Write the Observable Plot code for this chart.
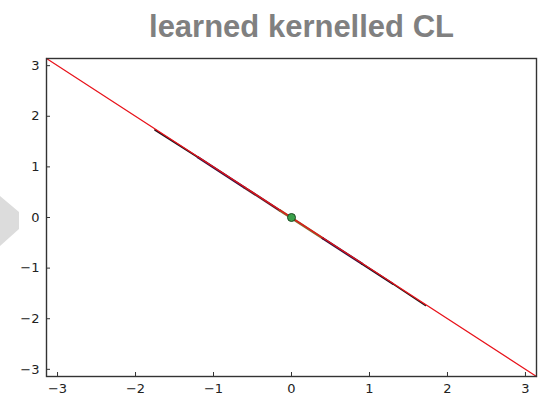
<!DOCTYPE html>
<html>
<head>
<meta charset="utf-8">
<script src="https://cdn.jsdelivr.net/npm/d3@7"></script>
<script src="https://cdn.jsdelivr.net/npm/@observablehq/plot@0.6"></script>
<style>
  html, body { margin: 0; padding: 0; background: #fff; }
  #wrap { position: relative; width: 549px; height: 403px; overflow: hidden; }
  #title {
    height: 50px; line-height: 50px; text-align: center;
    font: bold 31px "Liberation Sans", Arial, sans-serif; color: #808080;
    padding-left: 54px; box-sizing: border-box; white-space: nowrap;
    position: relative;
  }
  #title span { position: relative; top: 9px; }
  #nav {
    position: absolute; left: 0; top: 190px; width: 19px; height: 60px;
    background: #dcdcdc;
    clip-path: polygon(0 6px, 19px 22px, 19px 39px, 0 56px);
  }
</style>
</head>
<body>
<div id="wrap">
  <div id="title"><span>learned kernelled CL</span></div>
  <div id="chart"></div>
  <div id="nav"></div>
</div>
<script>
const PI = Math.PI;

// axis ticks
const tickValues = [-3, -2, -1, 0, 1, 2, 3];
const fmt = d => d < 0 ? "\u2212" + Math.abs(d) : String(d);

// reference diagonal y = -x across the whole domain
const refX = [-PI, PI];
const refY = [PI, -PI];

// learned trajectory, drawn as coloured pieces along the diagonal
const segX1 = [-1.75, -1.2, -0.6, -0.15, 0.4, 0.9, 1.3];
const segX2 = [-1.2, -0.6, -0.15, 0.4, 0.9, 1.3, 1.72];
const segY1 = [1.73, 1.19, 0.59, 0.14, -0.41, -0.91, -1.31];
const segY2 = [1.19, 0.59, 0.14, -0.41, -0.91, -1.31, -1.74];
const segColor = ["#1e141e", "#3a1440", "#5a2030", "#8a6a30", "#34143f", "#1e1226", "#2a1818"];
const segWidth = [1.8, 2.4, 2.4, 2.6, 2.4, 2, 1.4];

// fixed point at the origin
const ptX = [0];
const ptY = [0];

const ref = refX.map((x, i) => ({x, y: refY[i]}));
const segs = segX1.map((x1, i) => ({x1, x2: segX2[i], y1: segY1[i], y2: segY2[i], c: segColor[i], w: segWidth[i]}));
const pts = ptX.map((x, i) => ({x, y: ptY[i]}));

const chart = Plot.plot({
  width: 549,
  height: 353,
  marginTop: 8,
  marginBottom: 27,
  marginLeft: 46,
  marginRight: 13,
  style: {fontFamily: "DejaVu Sans, sans-serif", fontSize: "13px", color: "#222", background: "#fff"},
  x: {domain: [-PI, PI], label: null},
  y: {domain: [-PI, PI], label: null},
  marks: [
    Plot.link(segs, {x1: "x1", y1: "y1", x2: "x2", y2: "y2", stroke: d => d.c, strokeWidth: d => d.w, strokeLinecap: "round"}),
    Plot.line(ref, {x: "x", y: "y", stroke: "#e8121a", strokeWidth: 1.2}),
    Plot.dot(pts, {x: "x", y: "y", r: 4, fill: "#3aa04a", stroke: "#1d4d24", strokeWidth: 1}),
    // inward tick marks
    Plot.axisX({ticks: tickValues, tickSize: -4, text: null, stroke: "#333"}),
    Plot.axisY({ticks: tickValues, tickSize: -4, text: null, stroke: "#333"}),
    // tick labels
    Plot.axisX({ticks: tickValues, tickFormat: fmt, tickSize: 0, tickPadding: 7, fill: "#222", fontSize: 13}),
    Plot.axisY({ticks: tickValues, tickFormat: fmt, tickSize: 0, tickPadding: 7, fill: "#222", fontSize: 13}),
    Plot.frame({stroke: "#333", strokeWidth: 1.4})
  ]
});
document.getElementById("chart").appendChild(chart);
</script>
</body>
</html>
